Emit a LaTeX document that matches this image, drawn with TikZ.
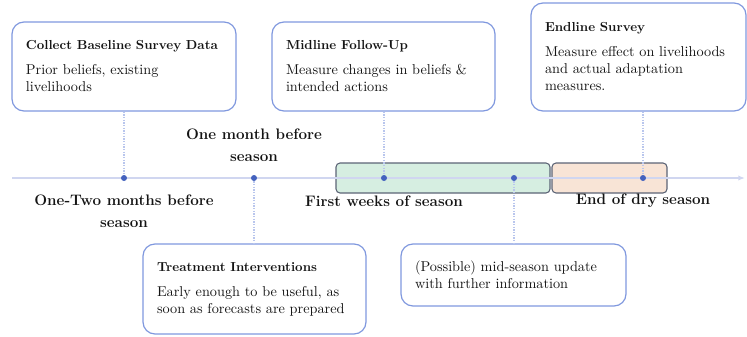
\documentclass[tikz,border=0pt]{standalone}
\usetikzlibrary{positioning, arrows.meta}

\definecolor{boxline}{RGB}{128,152,222}
\definecolor{axisline}{RGB}{208,214,240}
\definecolor{dotcol}{RGB}{68,98,190}
\definecolor{weekfill}{RGB}{214,238,225}
\definecolor{dryfill}{RGB}{248,228,214}
\definecolor{barline}{RGB}{92,100,118}
\definecolor{txt}{RGB}{20,20,20}

\tikzset{
  infobox/.style={draw=boxline, line width=0.9pt, rounded corners=9pt, align=left,
    inner xsep=0pt, text=txt, font=\fontsize{10.7}{12.75}\selectfont},
  period/.style={draw=barline, line width=0.8pt, rounded corners=3pt, minimum height=22.5pt},
  stamp/.style={circle, fill=dotcol, inner sep=0pt, minimum size=4.5pt},
  when/.style={font=\fontsize{11.4}{16.5}\selectfont\bfseries, align=center, text=txt},
  link/.style={draw=boxline!55, dash pattern=on 1pt off 1pt, line width=0.8pt}
}
\newcommand{\boxtitle}[1]{{\fontsize{9.8}{12}\selectfont\bfseries #1}}

\begin{document}
\begin{tikzpicture}[x=0.75pt,y=-0.75pt]
  \useasboundingbox (0,0) rectangle (747,336);
  % periods on the axis
  \node[period, fill=weekfill, minimum width=160.5pt] (weeks) at (443,178) {};
  \node[period, fill=dryfill, minimum width=86.25pt] (dry) at (609.5,178) {};
  \coordinate (start) at (12,178);
  \coordinate (stop) at (745,178);
  \draw[axisline, line width=1pt, -{Latex[length=5pt,width=4pt]}] (start) -- (stop);
  % time stamps
  \node[stamp] (d1) at (124,178) {};
  \node[stamp] (d2) at (254,178) {};
  \node[stamp] (d3) at (384,178) {};
  \node[stamp] (d4) at (514,178) {};
  \node[stamp] (d5) at (643,178) {};
  % boxes
  \node[infobox, minimum width=168pt, minimum height=66.75pt, text width=147pt] (base) at (124,66.5)
    {\boxtitle{Collect Baseline Survey Data}\\[6pt]Prior beliefs, existing\\livelihoods};
  \node[infobox, minimum width=167.25pt, minimum height=66.75pt, text width=146.25pt] (mid) at (383.5,66.5)
    {\boxtitle{Midline Follow-Up}\\[6pt]Measure changes in beliefs \&\\intended actions};
  \node[infobox, minimum width=161.25pt, minimum height=81pt, text width=140.25pt] (endl) at (638.5,57)
    {\boxtitle{Endline Survey}\\[6pt]Measure effect on livelihoods\\and actual adaptation\\measures.};
  \node[infobox, minimum width=167.25pt, minimum height=67.5pt, text width=146.25pt] (treat) at (254.5,289)
    {\boxtitle{Treatment Interventions}\\[6pt]Early enough to be useful, as\\soon as forecasts are prepared};
  \node[infobox, minimum width=168.75pt, minimum height=46.5pt, text width=147.75pt] (upd) at (513.5,275)
    {(Possible) mid-season update\\with further information};
  % links
  \draw[link] (base.south) -- (d1);
  \draw[link] (d3 |- mid.south) -- (d3);
  \draw[link] (d5 |- endl.south) -- (d5);
  \draw[link] (d2) -- (d2 |- treat.north);
  \draw[link] (d4) -- (d4 |- upd.north);
  % labels
  \node[when] (l1) at (124,211) {One-Two months before\\season};
  \node[when] (l2) at (254,145) {One month before\\season};
  \node[when] (l3) at (384,201) {First weeks of season};
  \node[when] (l4) at (643,201) {End of dry season};
\end{tikzpicture}
\end{document}
